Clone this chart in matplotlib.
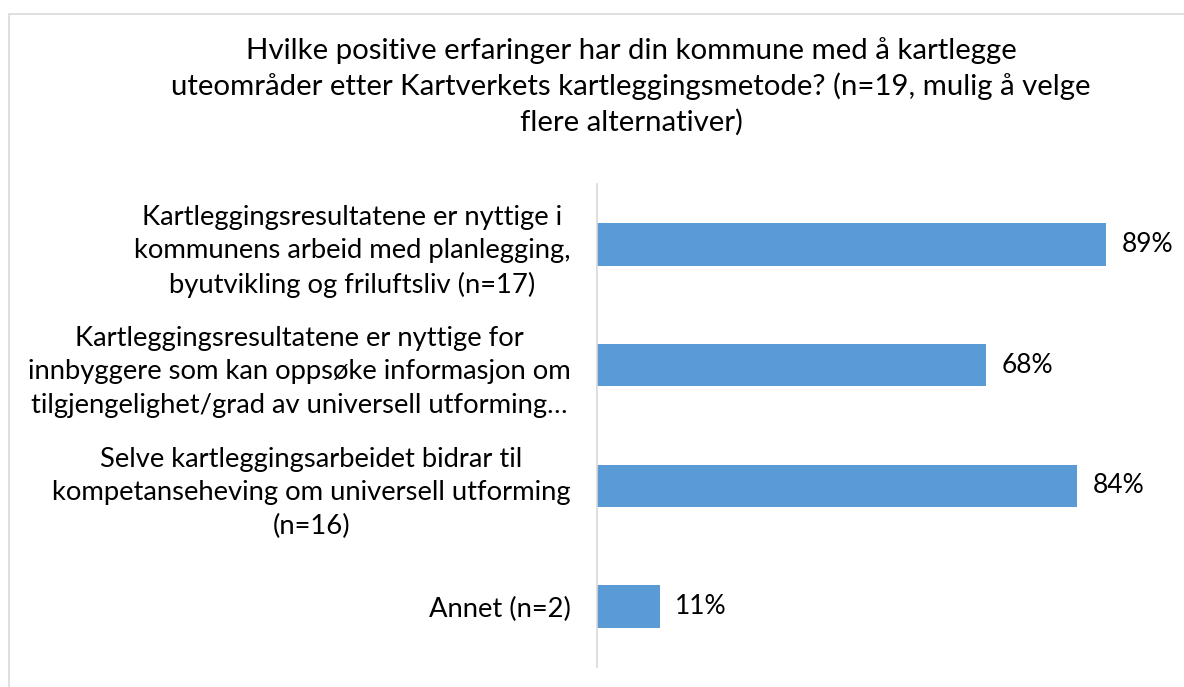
import matplotlib
matplotlib.use("Agg")
import matplotlib.pyplot as plt
from matplotlib.patches import Rectangle

TITLE = ("Hvilke positive erfaringer har din kommune med å kartlegge\n"
         "uteområder etter Kartverkets kartleggingsmetode? (n=19, mulig å velge\n"
         "flere alternativer)")

categories = [
    "Kartleggingsresultatene er nyttige i\nkommunens arbeid med planlegging,\nbyutvikling og friluftsliv (n=17)",
    "Kartleggingsresultatene er nyttige for\ninnbyggere som kan oppsøke informasjon om\ntilgjengelighet/grad av universell utforming…",
    "Selve kartleggingsarbeidet bidrar til\nkompetanseheving om universell utforming\n(n=16)",
    "Annet (n=2)",
]
percent = [89, 68, 84, 11]

BAR_COLOR = "#5B9BD5"
GRID_GRAY = "#D9D9D9"
W, H = 1184, 687

plt.rcParams['font.family'] = ['Lato', 'DejaVu Sans']

fig = plt.figure(figsize=(W / 100, H / 100), dpi=100)
fig.patch.set_facecolor("white")

# chart area frame (left and top edges visible, rest cut off)
fig.patches.append(Rectangle((8.5 / W, -0.1), 1.2, 1.1 - 13.5 / H,
                             transform=fig.transFigure, fill=False,
                             edgecolor=GRID_GRAY, linewidth=1.2))

ax = fig.add_axes([597 / W, 1 - 667 / H, (1169 - 597) / W, (667 - 184) / H])

pos = list(range(len(categories)))
ax.barh(pos, percent, height=0.352, color=BAR_COLOR)
ax.set_ylim(len(categories) - 0.5, -0.5)
ax.set_xlim(0, 100)

for y, v in zip(pos, percent):
    ax.annotate(f"{v}%", (v, y), xytext=(11, 0), textcoords="offset points",
                va="center", ha="left", fontsize=19, color="#000000")

ax.set_yticks(pos)
ax.set_yticklabels(categories, fontsize=19.7, linespacing=1.42)
for lbl in ax.get_yticklabels():
    lbl.set_multialignment("center")
ax.tick_params(axis="y", length=0, pad=19)
ax.set_xticks([])

for side in ("top", "right", "bottom"):
    ax.spines[side].set_visible(False)
ax.spines["left"].set_color(GRID_GRAY)
ax.spines["left"].set_linewidth(1.2)

fig.text(631 / W, 1 - 86.5 / H, TITLE, ha="center", va="center",
         fontsize=21.2, linespacing=1.38, multialignment="center")

fig.savefig("out.png", dpi=100)
